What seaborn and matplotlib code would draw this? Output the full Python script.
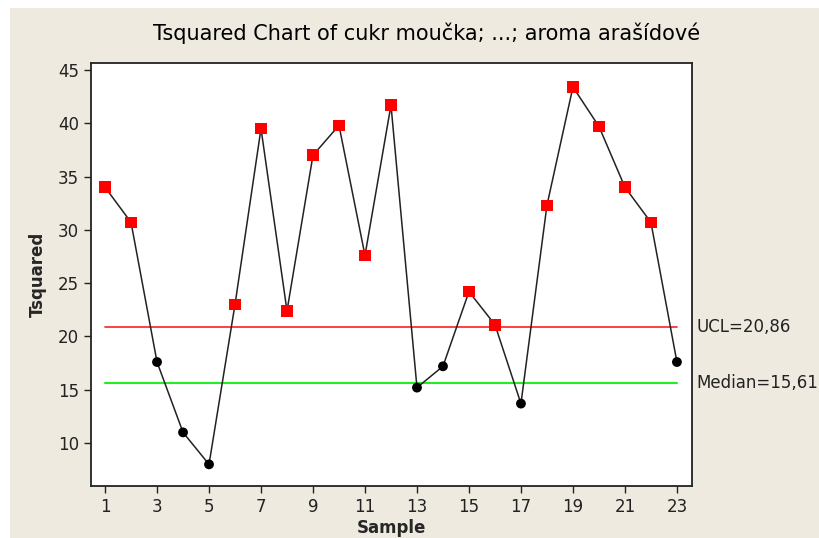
import matplotlib

matplotlib.use("Agg")
import matplotlib.pyplot as plt
import numpy as np
import pandas as pd
import seaborn as sns
from matplotlib.patches import Rectangle

SAMPLES = list(range(1, 24))
TSQUARED = [34.0, 30.7, 17.6, 11.0, 8.0, 23.0, 39.5, 22.4, 37.0, 39.8, 27.6, 41.7,
            15.2, 17.2, 24.2, 21.1, 13.7, 32.3, 43.4, 39.7, 34.0, 30.7, 17.6]
UCL = 20.86
MEDIAN = 15.61
X_TICKS = list(range(1, 24, 2))
Y_TICKS = [10, 15, 20, 25, 30, 35, 40, 45]

BEIGE = "#eeeae0"
Y_LIM = (5.97, 45.65)

df = pd.DataFrame({"sample": SAMPLES, "tsq": TSQUARED})
df["out"] = df["tsq"] > UCL

sns.set_style("ticks")
plt.rcParams["font.family"] = ["DejaVu Sans"]

fig = plt.figure(figsize=(8.2, 5.38), dpi=100, facecolor="white")
fig.patches.append(Rectangle((10 / 820, 0), 1, (538 - 8) / 538, transform=fig.transFigure,
                             facecolor=BEIGE, edgecolor="none", zorder=-10))
ax = fig.add_axes([91 / 820, 1 - 486 / 538, (692 - 91) / 820, (486 - 63) / 538])
ax.set_facecolor("white")

# limit lines span the sample range only
ax.plot([SAMPLES[0], SAMPLES[-1]], [UCL, UCL], color="#ff2020", lw=1.2, zorder=1)
ax.plot([SAMPLES[0], SAMPLES[-1]], [MEDIAN, MEDIAN], color="#22ee22", lw=1.5, zorder=1)

sns.lineplot(data=df, x="sample", y="tsq", color="#222222", lw=1.1, ax=ax, zorder=2)
sns.scatterplot(data=df[df["out"]], x="sample", y="tsq", marker="s", color="#ff0000",
                s=70, edgecolor="none", ax=ax, zorder=3)
sns.scatterplot(data=df[~df["out"]], x="sample", y="tsq", marker="o", color="black",
                s=50, edgecolor="none", ax=ax, zorder=3)

ax.set_xlim(0.46, 23.58)
ax.set_ylim(*Y_LIM)
ax.set_xticks(X_TICKS)
ax.set_yticks(Y_TICKS)
ax.tick_params(direction="out", length=5, width=1, labelsize=12, colors="#222222")
for side in ax.spines.values():
    side.set_visible(True)
    side.set_linewidth(1.3)
    side.set_color("#222222")

ax.set_xlabel("Sample", fontsize=12, fontweight="bold", labelpad=2)
ax.set_ylabel("Tsquared", fontsize=12, fontweight="bold", labelpad=8)

ax.text(1.008, (UCL - Y_LIM[0]) / (Y_LIM[1] - Y_LIM[0]), f"UCL={UCL:.2f}".replace(".", ","),
        transform=ax.transAxes, va="center", ha="left", fontsize=12, color="#222222")
ax.text(1.008, (MEDIAN - Y_LIM[0]) / (Y_LIM[1] - Y_LIM[0]), f"Median={MEDIAN:.2f}".replace(".", ","),
        transform=ax.transAxes, va="center", ha="left", fontsize=12, color="#222222")

fig.text(427 / 820, 1 - 33 / 538, "Tsquared Chart of cukr moučka; ...; aroma arašídové",
         ha="center", va="center", fontsize=15, color="black")

fig.savefig("out.png", dpi=100, facecolor=fig.get_facecolor())
